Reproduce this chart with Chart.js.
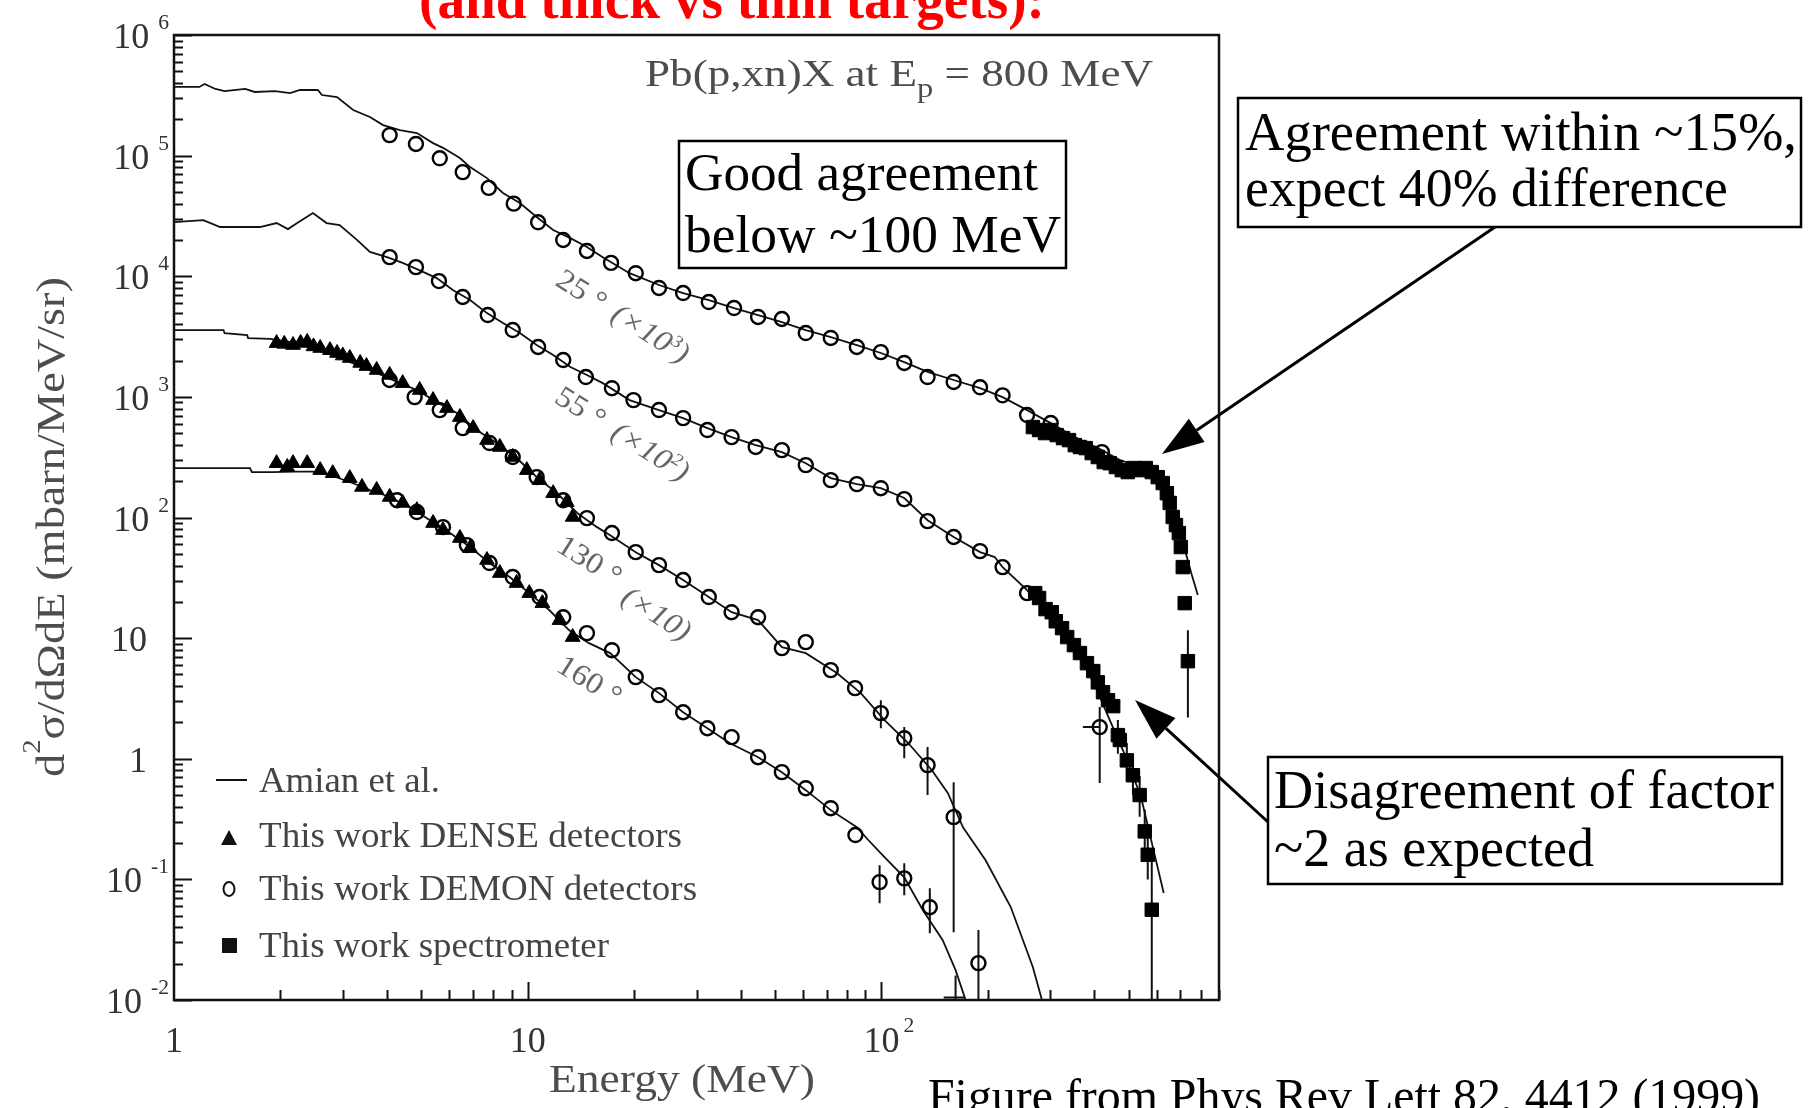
<!DOCTYPE html>
<html>
<head>
<meta charset="utf-8">
<title>Pb(p,xn)X at Ep = 800 MeV</title>
<script src="https://cdn.jsdelivr.net/npm/chart.js@4.4.1/dist/chart.umd.min.js"></script>
<style>
  html, body { margin: 0; padding: 0; background: #fff; overflow: hidden; }
  canvas { display: block; }
</style>
</head>
<body>
<canvas id="chart" width="1813" height="1108"></canvas>
<script>
// Values: [energy MeV, d2sigma/dOmega dE as plotted (already scaled)]
const amian25 = [[1.0,3.71e5],[1.18,3.71e5],[1.22,3.93e5],[1.31,3.57e5],[1.39,3.43e5],[1.59,3.57e5],[1.69,3.37e5],[1.93,3.43e5],[2.13,3.3e5],[2.27,3.5e5],[2.55,3.5e5],[2.62,3.18e5],[2.89,3.06e5],[3.21,2.39e5],[3.58,2.09e5],[3.9,1.79e5],[4.35,1.63e5],[4.86,1.54e5],[5.4,1.27e5],[5.76,1.16e5],[6.43,9.55e4],[6.87,8.04e4],[7.67,6.51e4],[8.51,4.9e4],[9.5,4.05e4],[10.6,3.1e4],[11.8,2.42e4],[13.2,2.07e4],[14.7,1.75e4],[16.3,1.44e4],[19.4,1.06e4],[23.5,8.46e3],[27.5,7.26e3],[32.5,6.35e3],[38.3,5.45e3],[44.8,4.77e3],[52.3,4.17e3],[61.1,3.58e3],[71.9,3.13e3],[85.2,2.69e3],[99.6,2.31e3],[116,1.94e3],[135,1.61e3],[160,1.38e3],[190,1.18e3],[220,996],[258,777],[301,606],[352,464],[420,362],[472,299],[548,262],[580,250],[620,204],[653,139],[689,86.5],[725,50.7],[754,33.3],[784,22.8]];
const amian55 = [[1.0,2.81e4],[1.21,2.92e4],[1.35,2.56e4],[1.75,2.56e4],[1.95,2.76e4],[2.1,2.46e4],[2.23,2.76e4],[2.47,3.34e4],[2.7,2.76e4],[2.94,2.66e4],[3.29,2.0e4],[3.58,1.59e4],[4.0,1.44e4],[4.43,1.29e4],[4.95,1.12e4],[5.53,9.66e3],[6.14,7.69e3],[6.87,6.35e3],[7.67,4.95e3],[8.51,4.09e3],[9.5,3.38e3],[10.6,2.69e3],[11.8,2.22e3],[13.2,1.77e3],[14.7,1.52e3],[16.3,1.3e3],[19.4,940],[23.5,778],[27.5,667],[32.2,551],[37.7,464],[44.1,398],[52.3,348],[61.1,282],[71.9,212],[85.2,189],[99.6,175],[116,145],[135,95],[149,78.7],[160,68.9],[190,51.7],[209,47],[220,38.8],[258,25],[299,15.5],[350,8.4],[399,4.23],[442,2.09],[491,1.03],[542,0.48],[585,0.185],[628,0.077]];
const amian130 = [[1.0,3.58e3],[1.38,3.58e3],[1.39,3.38e3],[1.61,3.25e3],[1.62,3.07e3],[1.87,3.02e3],[2.23,2.79e3],[2.54,2.44e3],[2.89,2.14e3],[3.29,1.84e3],[3.74,1.58e3],[4.27,1.33e3],[4.86,1.14e3],[5.53,905],[6.3,734],[7.17,531],[8.17,414],[9.3,311],[10.6,216],[12.1,159],[13.8,109],[15.7,83.2],[17.1,71.4],[20.2,51.6],[23.5,40.3],[27.5,30.3],[32.5,21.9],[37.7,16.4],[44.8,14.1],[52.3,8.42],[61.1,7.51],[74.8,5.13],[87.4,3.5],[102,2.09],[119,1.35],[139,0.8],[154,0.52],[170,0.27],[197,0.144],[232,0.059],[256,0.027],[268,0.0187],[283,0.0105],[290,0.008]];
const amian160 = [[1.0,257],[1.64,257],[1.66,238],[1.9,238],[2.2,240],[2.47,240],[2.76,225],[3.14,197],[3.58,169],[4.07,148],[4.64,122],[5.29,95.1],[6.03,74.3],[6.87,56.9],[7.8,41.9],[8.89,32.1],[10.1,23.6],[11.5,17.1],[13.1,11.6],[14.9,9.08],[17.1,7.51],[20.2,4.75],[23.5,3.5],[27.5,2.43],[32.2,1.79],[37.2,1.35],[44.8,1.03],[52.3,0.774],[61.1,0.549],[71.9,0.375],[85.2,0.271],[91.9,0.211],[102,0.153],[116,0.104],[131,0.0555],[149,0.0313],[162,0.0177],[172,0.0105],[176,0.008]];

const dense130 = [[1.95,2.79e3],[2.05,2.75e3],[2.17,2.69e3],[2.28,2.8e3],[2.38,2.85e3],[2.48,2.62e3],[2.59,2.54e3],[2.76,2.44e3],[2.89,2.31e3],[3.0,2.2e3],[3.14,2.1e3],[3.36,1.91e3],[3.5,1.8e3],[3.74,1.67e3],[4.07,1.52e3],[4.43,1.3e3],[4.95,1.14e3],[5.4,940],[5.91,807],[6.43,680],[7.01,551],[7.67,438],[8.34,384],[9.07,317],[9.94,247],[10.8,204],[11.8,159],[12.9,134],[13.4,101]];
const dense160 = [[1.95,282],[2.09,262],[2.17,282],[2.38,282],[2.59,247],[2.81,233],[3.14,212],[3.4,179],[3.74,169],[4.07,148],[4.43,132],[4.86,115],[5.4,89.9],[5.76,78.7],[6.43,67.5],[6.87,55.7],[7.67,44.4],[8.34,34.6],[9.3,28.6],[10.1,23.6],[11.0,19.5],[12.3,14.1],[13.4,10.2]];

const demon25 = [[4.07,1.48e5],[4.83,1.25e5],[5.64,9.5e4],[6.55,7.3e4],[7.76,5.4e4],[9.13,4.0e4],[10.7,2.8e4],[12.6,2.0e4],[14.7,1.62e4],[17.2,1.29e4],[20.2,1.06e4],[23.5,8.0e3],[27.5,7.26e3],[32.5,6.11e3],[38.3,5.45e3],[44.8,4.6e3],[52.3,4.42e3],[61.1,3.38e3],[71.9,3.08e3],[85.2,2.59e3],[99.6,2.35e3],[116,1.91e3],[135,1.46e3],[160,1.33e3],[190,1.2e3],[220,1.03e3],[258,707],[301,607],[420,348]];
const demon55 = [[4.07,1.44e4],[4.83,1.19e4],[5.61,9.12e3],[6.55,6.73e3],[7.71,4.77e3],[9.07,3.58e3],[10.7,2.59e3],[12.6,2.02e3],[14.6,1.46e3],[17.3,1.18e3],[19.9,940],[23.5,778],[27.5,667],[32.2,531],[37.7,464],[44.1,384],[52.3,362],[61.1,272],[71.9,204],[85.2,189],[99.6,175],[116,142],[135,93.3],[160,68.9],[190,52.6],[220,38.8],[258,23.6],[414,1.83]];
const demon130 = [[4.07,1.38e3],[4.79,996],[5.64,777],[6.55,551],[7.8,414],[9.07,317],[10.6,216],[12.6,139],[14.7,98.9],[17.3,74.3],[20.2,51.6],[23.5,40.3],[27.5,30.3],[32.5,21.9],[37.7,16.4],[44.8,14.9],[52.3,8.26],[61.1,9.27],[71.9,5.43],[84.2,3.85],[99.6,2.39],[116,1.48],[135,0.885],[160,0.328]];
const demon160 = [[4.27,139],[4.86,111],[5.76,83.2],[6.73,59],[7.8,41.9],[9.07,32.1],[10.8,21.9],[12.6,14.9],[14.7,11.0],[17.3,7.94],[20.2,4.75],[23.5,3.37],[27.5,2.43],[32.2,1.79],[37.7,1.51],[44.8,1.03],[52.3,0.774],[61.1,0.57],[71.9,0.389],[84.4,0.233],[98.8,0.0948],[116,0.102],[137,0.0588],[188,0.0202]];

const spect25 = [[268,562],[279,531],[290,501],[301,531],[313,482],[326,455],[339,438],[352,398],[364,384],[378,376],[393,342],[409,317],[425,288],[442,282],[460,262],[478,247],[497,238],[517,257],[537,247],[559,257],[581,238],[604,216],[624,193],[641,159],[653,132],[666,101],[680,86.5],[693,74.3],[702,56.9],[711,38.8],[720,19.5],[735,6.44]];
const spect55 = [[272,23.6],[279,21.5],[291,17.4],[303,16.4],[311,13.8],[324,12.1],[335,10.2],[350,8.75],[364,7.52],[381,6.2],[397,5.33],[409,4.3],[423,3.56],[437,3.06],[452,2.73],[466,1.57],[472,1.43],[494,0.97],[514,0.73],[537,0.5],[555,0.25],[566,0.16],[581,0.056]];

// vertical error bars [energy, low, high]; horizontal ones [low E, high E, value]
const errV = [[99.6,1.79,3.06],[116,1.01,1.83],[135,0.5,1.25],[160,0.0365,0.64],
              [98.8,0.0635,0.131],[116,0.074,0.136],[137,0.0358,0.0845],[188,0.005,0.038],[162,0.005,0.016],
              [414,0.63,2.68],[735,2.2,11.6],
              [466,1.1,2.1],[494,0.65,1.35],[514,0.5,1.0],[537,0.33,0.72],[555,0.16,0.38],[566,0.1,0.26],[581,0.005,0.14]];
const errH = [[150,172,0.0105],[371,414,1.83]];

const xTickVals = [1, 10, 100];
const xTickText = [['1', ''], ['10', ''], ['10', '2']];
const yTickVals = [1e6, 1e5, 1e4, 1e3, 1e2, 10, 1, 0.1, 0.01];
const yTickText = [['10','6'],['10','5'],['10','4'],['10','3'],['10','2'],['10',''],['1',''],['10','-1'],['10','-2']];
const legendLabels = ['Amian et al.', 'This work DENSE detectors', 'This work DEMON detectors', 'This work spectrometer'];
const angleLabels = ['25 °', '55 °', '130 °', '160 °'];
const factorExps = ['3', '2', '', null];

const FAMILY = '"Liberation Serif", "Times New Roman", Times, serif';
const pts = arr => arr.map(([x, y]) => ({x, y}));
const vBars = arr => arr.flatMap(([e, lo, hi]) => [{x: e, y: lo}, {x: e, y: hi}, {x: e, y: null}]);
const hBars = arr => arr.flatMap(([e1, e2, v]) => [{x: e1, y: v}, {x: e2, y: v}, {x: e2, y: null}]);

// text with runs (superscripts etc.), optional fit to a width
function drawRuns(ctx, runs, x, y, o) {
    const font = r => `${o.italic ? 'italic ' : ''}${o.bold ? 'bold ' : ''}${(o.size * (r.scale || 1)).toFixed(1)}px ${FAMILY}`;
    ctx.save();
    let total = 0;
    const widths = runs.map(r => {
        ctx.font = font(r);
        const w = ctx.measureText(r.t).width + (r.gap || 0);
        total += w;
        return w;
    });
    const sx = o.width ? o.width / total : (o.sx || 1);
    ctx.translate(x, y);
    if (o.rotate) ctx.rotate(o.rotate);
    ctx.scale(sx, 1);
    let cx = o.align === 'center' ? -total / 2 : o.align === 'right' ? -total : 0;
    const base = o.middle ? o.size * 0.34 : 0;
    ctx.fillStyle = o.color || '#000';
    ctx.textBaseline = 'alphabetic';
    runs.forEach((r, i) => {
        ctx.font = font(r);
        ctx.fillText(r.t, cx + (r.gap || 0), base + (r.dy || 0));
        cx += widths[i];
    });
    ctx.restore();
    return total * sx;
}

function box(ctx, l, t, r, b) {
    ctx.save();
    ctx.strokeStyle = '#000';
    ctx.lineWidth = 2.5;
    ctx.strokeRect(l, t, r - l, b - t);
    ctx.restore();
}

function arrow(ctx, x1, y1, x2, y2) {
    const ang = Math.atan2(y2 - y1, x2 - x1), L = 42, W = 14;
    const bx = x2 - L * Math.cos(ang), by = y2 - L * Math.sin(ang);
    ctx.save();
    ctx.strokeStyle = ctx.fillStyle = '#000';
    ctx.lineWidth = 3;
    ctx.beginPath(); ctx.moveTo(x1, y1); ctx.lineTo(bx, by); ctx.stroke();
    ctx.beginPath();
    ctx.moveTo(x2, y2);
    ctx.lineTo(bx + W * Math.sin(ang), by - W * Math.cos(ang));
    ctx.lineTo(bx - W * Math.sin(ang), by + W * Math.cos(ang));
    ctx.closePath(); ctx.fill();
    ctx.restore();
}

// white page, frame and inward ticks
const framePlugin = {
    id: 'frame',
    beforeDraw(chart) {
        const c = chart.ctx;
        c.save(); c.fillStyle = '#fff'; c.fillRect(0, 0, chart.width, chart.height); c.restore();
    },
    afterDatasetsDraw(chart) {
        const {ctx, chartArea: a, scales: {x, y}} = chart;
        ctx.save();
        ctx.strokeStyle = '#111';
        ctx.lineWidth = 2;
        ctx.beginPath();
        for (let d = -2; d <= 6; d++) {
            for (let k = 1; k <= 9; k++) {
                const v = k * Math.pow(10, d);
                if (v > 1.0001e6) break;
                const py = Math.round(y.getPixelForValue(v)) + 0.5;
                ctx.moveTo(a.left, py); ctx.lineTo(a.left + (k === 1 ? 18 : 9), py);
            }
        }
        for (let d = 0; d <= 2; d++) {
            for (let k = 1; k <= 9; k++) {
                const v = k * Math.pow(10, d);
                if (v === 1 || v > 900) continue;
                const px = Math.round(x.getPixelForValue(v)) + 0.5;
                ctx.moveTo(px, a.bottom); ctx.lineTo(px, a.bottom - (k === 1 ? 18 : 10));
            }
        }
        ctx.stroke();
        ctx.lineWidth = 2.5;
        ctx.strokeRect(a.left, a.top, a.right - a.left, a.bottom - a.top);
        ctx.restore();
    }
};

// tick labels, titles, legend, curve labels, slide annotations
const textPlugin = {
    id: 'texts',
    afterDraw(chart) {
        const {ctx, scales: {x, y}} = chart;
        const tickGray = '#333', figGray = '#4d4d4d';

        yTickVals.forEach((v, i) => {
            const [base, exp] = yTickText[i];
            const py = y.getPixelForValue(v);
            if (exp) drawRuns(ctx, [{t: base}, {t: exp, scale: 0.6, dy: -19, gap: 9}], 169, py + 13, {size: 36, color: tickGray, align: 'right'});
            else drawRuns(ctx, [{t: base}], 147, py + 13, {size: 36, color: tickGray, align: 'right'});
        });
        xTickVals.forEach((v, i) => {
            const [base, exp] = xTickText[i];
            const px = x.getPixelForValue(v);
            ctx.font = `36px ${FAMILY}`;
            const bw = ctx.measureText(base).width;
            const runs = [{t: base}];
            if (exp) runs.push({t: exp, scale: 0.6, dy: -20, gap: 4});
            drawRuns(ctx, runs, px - bw / 2, 1052, {size: 36, color: tickGray});
        });

        drawRuns(ctx, [{t: 'Energy (MeV)'}], 682, 1092, {size: 39, width: 266, align: 'center', color: figGray});
        drawRuns(ctx, [{t: 'd'}, {t: '2', scale: 0.62, dy: -24}, {t: 'σ/dΩdE (mbarn/MeV/sr)'}], 64, 527,
                 {size: 39, width: 500, align: 'center', rotate: -Math.PI / 2, color: figGray});
        drawRuns(ctx, [{t: 'Pb(p,xn)X at E'}, {t: 'p', scale: 0.72, dy: 11}, {t: ' = 800 MeV'}], 645, 86,
                 {size: 38, width: 508, color: figGray});

        // legend
        const legY = [792, 847, 900, 957], legW = [181, 423, 438, 350];
        ctx.save();
        ctx.strokeStyle = ctx.fillStyle = '#111';
        ctx.lineWidth = 2;
        ctx.beginPath(); ctx.moveTo(216, 780); ctx.lineTo(247, 780); ctx.stroke();
        ctx.beginPath(); ctx.moveTo(229, 830); ctx.lineTo(237, 845); ctx.lineTo(221, 845); ctx.closePath(); ctx.fill();
        ctx.beginPath(); ctx.ellipse(229, 889, 5.5, 7, 0, 0, 2 * Math.PI); ctx.stroke();
        ctx.fillRect(222, 938, 15, 15);
        ctx.restore();
        legendLabels.forEach((t, i) => drawRuns(ctx, [{t}], 259, legY[i], {size: 35, width: legW[i], color: '#444'}));

        // angle labels along the curves
        const rot = 32 * Math.PI / 180;
        const anglePos = [[582, 290], [581, 407], [590, 560], [590, 680]];
        const factorPos = [[651, 333], [651, 451], [657, 613]];
        angleLabels.forEach((t, i) => {
            drawRuns(ctx, [{t}], anglePos[i][0], anglePos[i][1], {size: 30, align: 'center', middle: true, rotate: rot, color: '#666', sx: 1.08});
            if (factorExps[i] !== null) {
                const runs = [{t: '(×10'}];
                if (factorExps[i]) runs.push({t: factorExps[i], scale: 0.6, dy: -11});
                runs.push({t: ')'});
                drawRuns(ctx, runs, factorPos[i][0], factorPos[i][1], {size: 30, align: 'center', middle: true, rotate: rot, color: '#666', italic: true, sx: 1.08});
            }
        });

        // slide annotations
        box(ctx, 679, 141, 1066, 268);
        drawRuns(ctx, [{t: 'Good agreement'}], 685, 190, {size: 53, width: 353});
        drawRuns(ctx, [{t: 'below ~100 MeV'}], 685, 252, {size: 53, width: 376});

        box(ctx, 1238, 98, 1801, 227);
        drawRuns(ctx, [{t: 'Agreement within ~15%,'}], 1245, 150, {size: 54, width: 552});
        drawRuns(ctx, [{t: 'expect 40% difference'}], 1245, 206, {size: 54, width: 483});
        arrow(ctx, 1495, 227, 1162, 454);

        box(ctx, 1268, 757, 1782, 884);
        drawRuns(ctx, [{t: 'Disagreement of factor'}], 1274, 808, {size: 54, width: 500});
        drawRuns(ctx, [{t: '~2 as expected'}], 1274, 866, {size: 54, width: 320});
        arrow(ctx, 1268, 822, 1135, 700);

        drawRuns(ctx, [{t: '(and thick vs thin targets):'}], 419, 18, {size: 57, bold: true, width: 626, color: '#ff0000'});
        drawRuns(ctx, [{t: 'Figure from Phys Rev Lett 82, 4412 (1999)'}], 928, 1112, {size: 48, width: 832});
    }
};

const lineDs = (data) => ({
    label: 'Amian et al.', data: pts(data), showLine: true, pointRadius: 0,
    borderColor: '#111', borderWidth: 1.8, fill: false, clip: 0, order: 3
});
const triDs = (data) => ({
    label: 'This work DENSE detectors', data: pts(data), pointStyle: 'triangle', pointRadius: 8.5,
    backgroundColor: '#000', borderColor: '#000', borderWidth: 1, order: 0
});
const circDs = (data) => ({
    label: 'This work DEMON detectors', data: pts(data), pointStyle: 'circle', pointRadius: 7,
    backgroundColor: 'rgba(255,255,255,0)', borderColor: '#000', borderWidth: 2.4, order: 0
});
const rectDs = (data) => ({
    label: 'This work spectrometer', data: pts(data), pointStyle: 'rect', pointRadius: 9.5,
    backgroundColor: '#000', borderColor: '#000', borderWidth: 1, order: 0
});

new Chart(document.getElementById('chart'), {
    type: 'scatter',
    data: {
        datasets: [
            triDs(dense130), triDs(dense160),
            circDs(demon25), circDs(demon55), circDs(demon130), circDs(demon160),
            rectDs(spect25), rectDs(spect55),
            {label: 'errors', data: vBars(errV).concat(hBars(errH)), showLine: true, pointRadius: 0,
             borderColor: '#111', borderWidth: 2, clip: 0, order: 1},
            lineDs(amian25), lineDs(amian55), lineDs(amian130), lineDs(amian160)
        ]
    },
    options: {
        responsive: false,
        animation: false,
        devicePixelRatio: 1,
        events: [],
        layout: {padding: {left: 174, top: 35, right: 594, bottom: 108}},
        plugins: {legend: {display: false}, tooltip: {enabled: false}},
        scales: {
            x: {type: 'logarithmic', min: 1, max: 900, display: false},
            y: {type: 'logarithmic', min: 0.01, max: 1e6, display: false}
        }
    },
    plugins: [framePlugin, textPlugin]
});
</script>
</body>
</html>
